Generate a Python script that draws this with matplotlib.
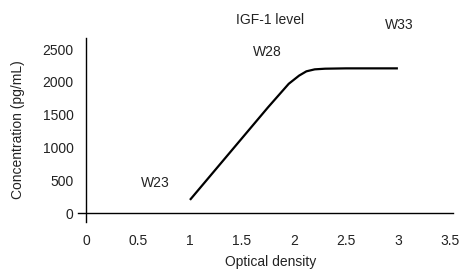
import matplotlib
matplotlib.use("Agg")
import matplotlib.pyplot as plt

# optical density vs IGF-1 concentration
od = [1.0, 1.25, 1.5, 1.75, 1.95, 2.05, 2.12, 2.2, 2.3, 2.5, 3.0]
conc = [200, 670, 1140, 1610, 1970, 2095, 2160, 2190, 2200, 2205, 2205]

week_labels = ["W23", "W28", "W33"]
week_x = [0.67, 1.74, 3.01]
week_y = [460, 2450, 2860]

xticks = [0, 0.5, 1, 1.5, 2, 2.5, 3, 3.5]
xticklabels = ["0", "0.5", "1", "1.5", "2", "2.5", "3", "3.5"]
yticks = [0, 500, 1000, 1500, 2000, 2500]

plt.rcParams['font.family'] = ['Liberation Sans', 'DejaVu Sans']
txt = '#222222'

fig = plt.figure(figsize=(4.66, 2.71), dpi=100)
ax = fig.add_axes([0.1674, 0.1808, 0.8047, 0.679])

ax.plot(od, conc, color='black', lw=1.6, solid_capstyle='butt')

for lab, x, y in zip(week_labels, week_x, week_y):
    ax.text(x, y, lab, ha='center', va='center', fontsize=10, color=txt)

ax.set_xlim(-0.077, 3.53)
ax.set_ylim(-137, 2668)
ax.spines['left'].set_position(('data', 0))
ax.spines['bottom'].set_position(('data', 0))
ax.spines['top'].set_visible(False)
ax.spines['right'].set_visible(False)
ax.spines['left'].set_linewidth(1.0)
ax.spines['bottom'].set_linewidth(1.0)

ax.set_xticks(xticks)
ax.set_xticklabels(xticklabels)
ax.set_yticks(yticks)
ax.tick_params(axis='x', length=0, pad=15, labelsize=10, labelcolor=txt)
ax.tick_params(axis='y', length=0, pad=9, labelsize=10, labelcolor=txt)

fig.text(0.58, 0.925, "IGF-1 level", ha='center', va='center', fontsize=10, color=txt)
fig.text(0.58, 0.035, "Optical density", ha='center', va='center', fontsize=10, color=txt)
fig.text(0.038, 0.52, "Concentration (pg/mL)", ha='center', va='center',
         rotation=90, fontsize=10, color=txt)

fig.savefig("out.png", dpi=100)
